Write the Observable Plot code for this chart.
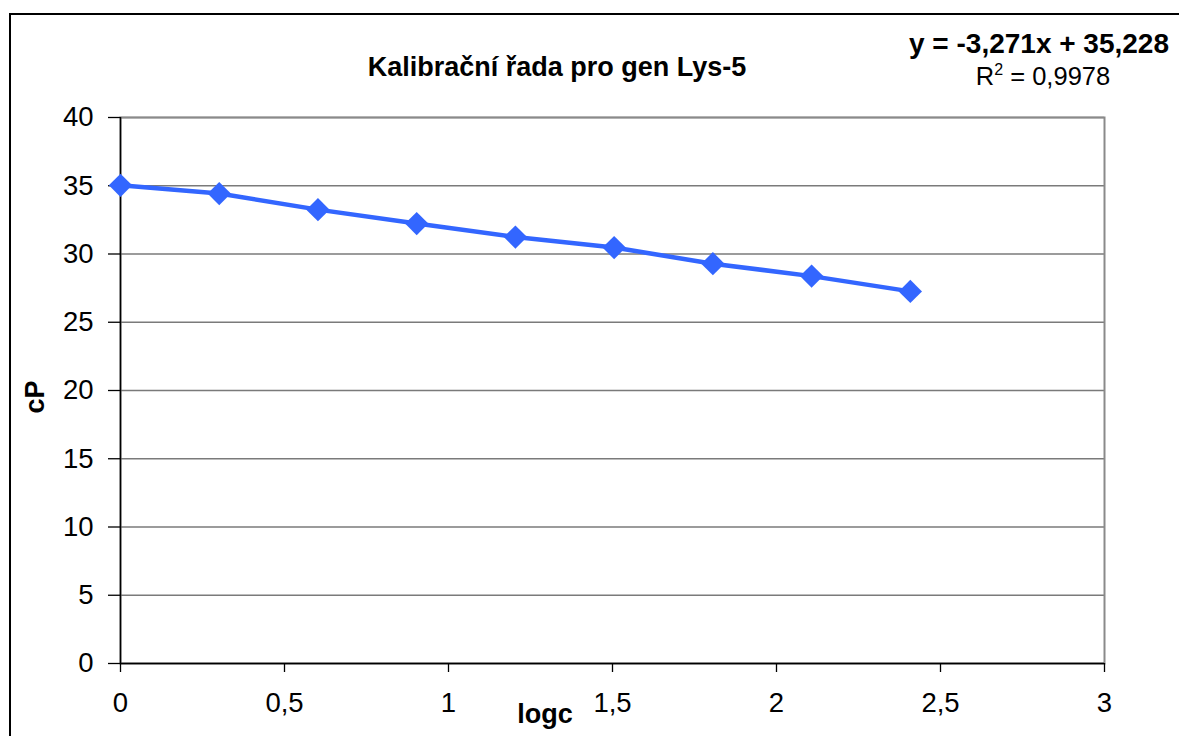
<!DOCTYPE html>
<html>
<head>
<meta charset="utf-8">
<script src="https://cdn.jsdelivr.net/npm/d3@7"></script>
<script src="https://cdn.jsdelivr.net/npm/@observablehq/plot@0.6"></script>
<style>
  html, body { margin: 0; padding: 0; background: #fff; }
  svg { display: block; }
</style>
</head>
<body>
<div id="chart"></div>
<script>
// Data
const logc = [0, 0.301, 0.602, 0.903, 1.204, 1.505, 1.806, 2.107, 2.408];
const cP = [35.03, 34.43, 33.25, 32.23, 31.24, 30.47, 29.29, 28.38, 27.26];
const xTicks = [0, 0.5, 1, 1.5, 2, 2.5, 3];
const yTicks = [0, 5, 10, 15, 20, 25, 30, 35, 40];
const titleText = "Kalibrační řada pro gen Lys-5";
const equationText = "y = -3,271x + 35,228";
const r2Value = "0,9978";
const xLabel = "logc";
const yLabel = "cP";

const data = logc.map((x, i) => ({x, y: cP[i]}));
const fmt = d => String(d).replace(".", ",");
const blue = "#3366ff";
const ff = "'Liberation Sans', Arial, sans-serif";

const plot = Plot.plot({
  width: 1179,
  height: 736,
  marginLeft: 120,
  marginRight: 75,
  marginTop: 117,
  marginBottom: 73,
  style: {fontFamily: ff, fontSize: "27.5px", color: "#000", background: "#fff"},
  x: {domain: [0, 3]},
  y: {domain: [0, 40]},
  marks: [
    Plot.gridY(yTicks, {stroke: "#7a7a7a", strokeOpacity: 1, strokeWidth: 1.5}),
    Plot.frame({stroke: "#8a8a8a", strokeWidth: 2}),
    Plot.ruleX([0], {stroke: "#000", strokeWidth: 1.5}),
    Plot.ruleY([0], {stroke: "#000", strokeWidth: 1.5}),
    Plot.axisY(yTicks, {tickSize: 12, tickPadding: 15, fontSize: 27.5, label: null, tickFormat: fmt, strokeWidth: 1.3}),
    Plot.axisX(xTicks, {tickSize: 9, tickPadding: 20, fontSize: 27.5, label: null, tickFormat: fmt, strokeWidth: 1.3}),
    Plot.line(data, {x: "x", y: "y", stroke: blue, strokeWidth: 4.5}),
    Plot.dot(data, {x: "x", y: "y", symbol: "diamond2", r: 10.5, fill: blue, stroke: "none"})
  ]
});

document.getElementById("chart").appendChild(plot);

const svg = d3.select(plot);
svg.selectAll("g[aria-label$='tick label'] text, g[aria-label$='tick label']")
  .style("font-size", "27.5px");

// outer chart border
svg.append("rect")
  .attr("x", 10).attr("y", 14).attr("width", 1300).attr("height", 900)
  .attr("fill", "none").attr("stroke", "#000").attr("stroke-width", 2);

svg.append("text")
  .attr("x", 557).attr("y", 76)
  .attr("text-anchor", "middle")
  .attr("font-family", ff).attr("font-weight", "bold").attr("font-size", 27)
  .attr("fill", "#000")
  .text(titleText);

svg.append("text")
  .attr("x", 1169).attr("y", 53)
  .attr("text-anchor", "end")
  .attr("font-family", ff).attr("font-weight", "bold").attr("font-size", 28)
  .attr("fill", "#000")
  .text(equationText);

const r2 = svg.append("text")
  .attr("x", 1043).attr("y", 85)
  .attr("text-anchor", "middle")
  .attr("font-family", ff).attr("font-size", 25.5)
  .attr("fill", "#000");
r2.append("tspan").text("R");
r2.append("tspan").attr("font-size", 16).attr("dy", -10).text("2");
r2.append("tspan").attr("dy", 10).text(" = " + r2Value);

svg.append("text")
  .attr("transform", "translate(44,397) rotate(-90)")
  .attr("text-anchor", "middle")
  .attr("font-family", ff).attr("font-weight", "bold").attr("font-size", 27)
  .attr("fill", "#000")
  .text(yLabel);

svg.append("text")
  .attr("x", 545).attr("y", 723)
  .attr("text-anchor", "middle")
  .attr("font-family", ff).attr("font-weight", "bold").attr("font-size", 27)
  .attr("fill", "#000")
  .text(xLabel);
</script>
</body>
</html>
